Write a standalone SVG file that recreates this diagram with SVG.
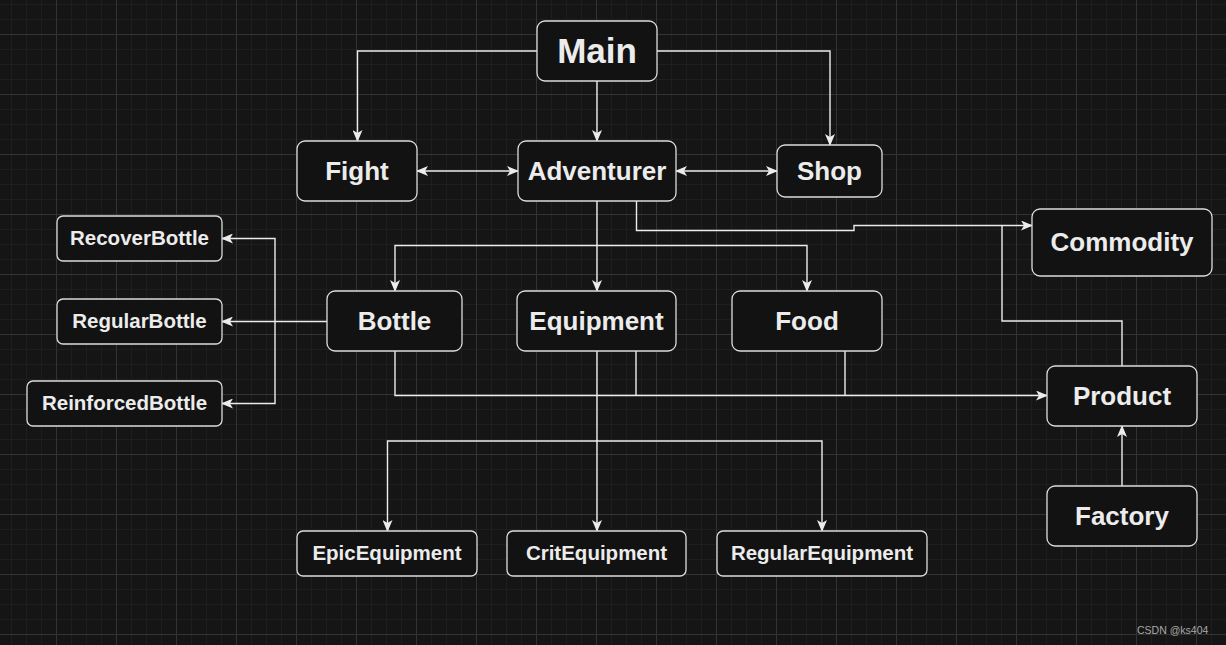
<svg xmlns="http://www.w3.org/2000/svg" width="1226" height="645" viewBox="0 0 1226 645">
<defs>
<pattern id="grid" patternUnits="userSpaceOnUse" x="56" y="34" width="60" height="60">
<rect width="60" height="60" fill="#151515"/>
<path d="M15.5,0V60M30.5,0V60M45.5,0V60M0,15.5H60M0,30.5H60M0,45.5H60" stroke="#1e1e1e" stroke-width="1"/>
<path d="M0.5,0V60M0,0.5H60" stroke="#333333" stroke-width="1"/>
</pattern>
<marker id="arr" viewBox="0 0 12 10" refX="11" refY="5" markerWidth="12" markerHeight="10" markerUnits="userSpaceOnUse" orient="auto-start-reverse">
<path d="M0,0 L12,5 L0,10 L3,5 Z" fill="#ececec"/>
</marker>
</defs>
<style>
.n rect{fill:#121212;stroke:#dcdcdc;stroke-width:1.3}
.n text{fill:#ececec;font-family:"Liberation Sans",Arial,sans-serif;font-weight:bold;text-anchor:middle}
.big{font-size:26px}
.sm{font-size:20.5px}
.c path{fill:none;stroke:#ececec;stroke-width:1.4}
</style>
<rect width="1226" height="645" fill="url(#grid)"/>
<g class="c" id="connectors">
<path d="M537,51H357.5V141" marker-end="url(#arr)"/>
<path d="M657,51H830V145" marker-end="url(#arr)"/>
<path d="M597,81V141" marker-end="url(#arr)"/>
<path d="M417,171H518" marker-start="url(#arr)" marker-end="url(#arr)"/>
<path d="M676,171H777" marker-start="url(#arr)" marker-end="url(#arr)"/>
<path d="M597,201V245.5H395V291" marker-end="url(#arr)"/>
<path d="M597,245.5V291" marker-end="url(#arr)"/>
<path d="M597,245.5H807V291" marker-end="url(#arr)"/>
<path d="M636.5,201V230.5H854V225.5H1032" marker-end="url(#arr)"/>
<path d="M1122,366V321H1002V225.5"/>
<path d="M395,351V395.5H1047" marker-end="url(#arr)"/>
<path d="M636,351V395.5"/>
<path d="M845,351V395.5"/>
<path d="M597,351V441H387.5V531" marker-end="url(#arr)"/>
<path d="M597,441V531" marker-end="url(#arr)"/>
<path d="M597,441H822V531" marker-end="url(#arr)"/>
<path d="M327,321.5H222" marker-end="url(#arr)"/>
<path d="M275,321.5V238.5H222" marker-end="url(#arr)"/>
<path d="M275,321.5V403.5H222" marker-end="url(#arr)"/>
<path d="M1122,486V426" marker-end="url(#arr)"/>
</g>
<g class="n" id="main"><rect x="537" y="21" width="120" height="60" rx="8"/><text x="597" y="63" style="font-size:35px">Main</text></g>
<g class="n" id="fight"><rect x="297" y="141" width="120" height="60" rx="8"/><text class="big" x="357" y="179.5">Fight</text></g>
<g class="n" id="adventurer"><rect x="518" y="141" width="158" height="60" rx="8"/><text class="big" x="597" y="179.5">Adventurer</text></g>
<g class="n" id="shop"><rect x="777" y="145" width="105" height="52" rx="8"/><text class="big" x="829.5" y="179.5">Shop</text></g>
<g class="n" id="commodity"><rect x="1032" y="209" width="180" height="67" rx="8"/><text class="big" x="1122" y="251">Commodity</text></g>
<g class="n" id="recoverbottle"><rect x="57" y="216" width="165" height="45" rx="6"/><text class="sm" x="139.5" y="245.3">RecoverBottle</text></g>
<g class="n" id="regularbottle"><rect x="57" y="299" width="165" height="45" rx="6"/><text class="sm" x="139.5" y="328.3">RegularBottle</text></g>
<g class="n" id="reinforcedbottle"><rect x="27" y="381" width="195" height="45" rx="6"/><text class="sm" x="124.5" y="410.3">ReinforcedBottle</text></g>
<g class="n" id="bottle"><rect x="327" y="291" width="135" height="60" rx="8"/><text class="big" x="394.5" y="329.5">Bottle</text></g>
<g class="n" id="equipment"><rect x="517" y="291" width="159" height="60" rx="8"/><text class="big" x="596.5" y="329.5">Equipment</text></g>
<g class="n" id="food"><rect x="732" y="291" width="150" height="60" rx="8"/><text class="big" x="807" y="329.5">Food</text></g>
<g class="n" id="product"><rect x="1047" y="366" width="150" height="60" rx="8"/><text class="big" x="1122" y="404.5">Product</text></g>
<g class="n" id="factory"><rect x="1047" y="486" width="150" height="60" rx="8"/><text class="big" x="1122" y="524.5">Factory</text></g>
<g class="n" id="epicequipment"><rect x="297" y="531" width="180" height="45" rx="6"/><text class="sm" x="387" y="560.3">EpicEquipment</text></g>
<g class="n" id="critequipment"><rect x="507" y="531" width="179" height="45" rx="6"/><text class="sm" x="596.5" y="560.3">CritEquipment</text></g>
<g class="n" id="regularequipment"><rect x="717" y="531" width="210" height="45" rx="6"/><text class="sm" x="822" y="560.3">RegularEquipment</text></g>
<text x="1137" y="633.5" style="font-family:'Liberation Sans',Arial,sans-serif;font-size:10.5px;fill:#a8a8a8">CSDN @ks404</text>
</svg>
